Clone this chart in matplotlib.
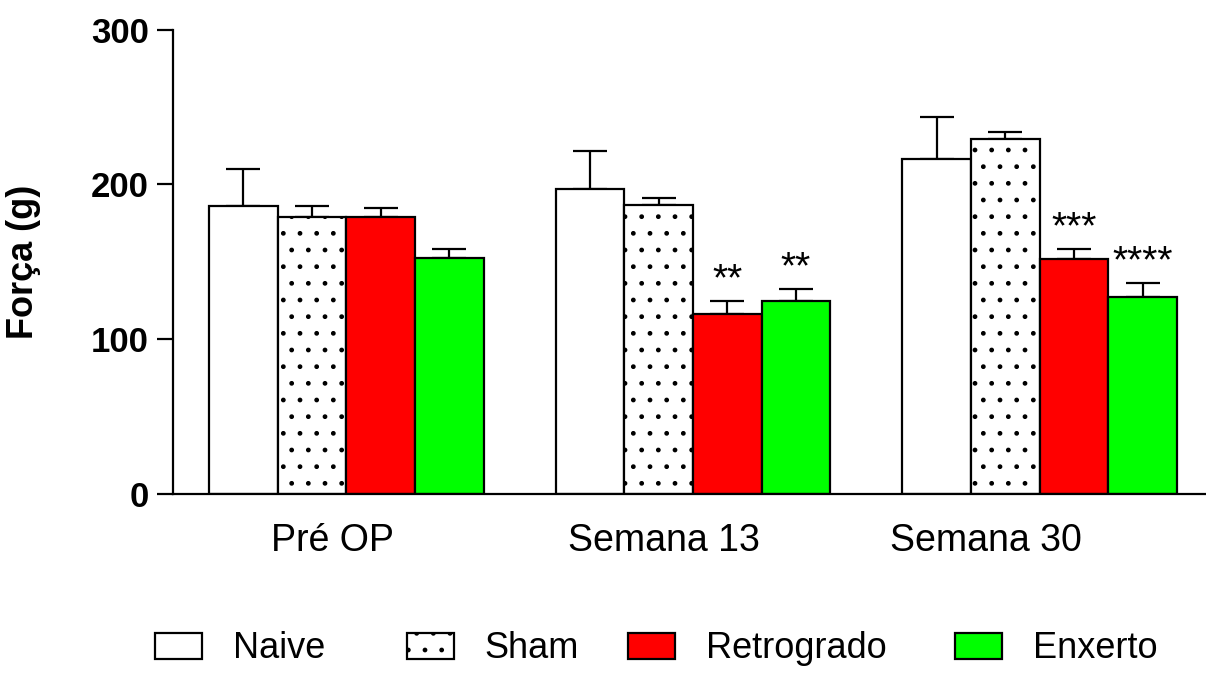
#!/usr/bin/env python3

import matplotlib
matplotlib.use('Agg')
import matplotlib.pyplot as plt
import matplotlib.patches as mpatches
import numpy as np


# data (force in g, mean and upper error)
groups = ['Pré OP', 'Semana 13', 'Semana 30']
series = ['Naive', 'Sham', 'Retrogrado', 'Enxerto']

naive = [186, 197, 216.5]
naive_err = [24, 24.5, 27]
sham = [179, 187, 229.5]
sham_err = [7, 4.5, 4.5]
retro = [179, 116, 152]
retro_err = [6, 8.5, 6]
enxerto = [152.5, 125, 127.5]
enxerto_err = [6, 7.5, 9]

# significance stars: (group index, series index, text)
stars = [(1, 2, '**'), (1, 3, '**'), (2, 2, '***'), (2, 3, '****')]


plt.rcParams['font.family'] = ['Liberation Sans', 'DejaVu Sans']
plt.rcParams['hatch.color'] = 'black'
plt.rcParams['hatch.linewidth'] = 1.0

fig = plt.figure(figsize=(12.06, 6.73), dpi=100)
ax = fig.add_axes([173/1206, 1 - 494/673, 1 - 173/1206, (494 - 29.7)/673])

means = [naive, sham, retro, enxerto]
errs = [naive_err, sham_err, retro_err, enxerto_err]
colors = ['white', 'white', '#ff0000', '#00ff00']
hatches = [None, '.', None, None]

x = np.arange(len(groups))
w = 0.198
handles = []
for i in range(len(series)):
    pos = x + (i - 1.5) * w
    ax.bar(pos, means[i], width=w, color=colors[i], edgecolor='black', linewidth=1.6,
           hatch=hatches[i], zorder=2)
    ax.errorbar(pos, means[i], yerr=[np.zeros(len(groups)), errs[i]], fmt='none',
                ecolor='black', elinewidth=1.6, capsize=12, capthick=1.6, zorder=1)
    handles.append(mpatches.Patch(facecolor=colors[i], edgecolor='black', linewidth=1.6,
                                  hatch=hatches[i], label=series[i]))

for g, s, txt in stars:
    ax.text(x[g] + (s - 1.5) * w, means[s][g] + errs[s][g] + 7, txt,
            ha='center', va='baseline', fontsize=28)

# axes styling
ax.set_xlim(-0.5, 2.48)
ax.set_ylim(0, 300)
ax.set_yticks([0, 100, 200, 300])
ax.spines['top'].set_visible(False)
ax.spines['right'].set_visible(False)
ax.spines['left'].set_linewidth(1.6)
ax.spines['bottom'].set_linewidth(1.6)
ax.tick_params(axis='y', length=11.5, width=1.6, pad=6, labelsize=25)
for lab in ax.get_yticklabels():
    lab.set_fontweight('bold')
label_shift = [-0.04, -0.085, -0.155]                      # labels sit left of the group centre
ax.set_xticks(x + np.array(label_shift))
ax.set_xticklabels(groups, fontsize=27)
ax.tick_params(axis='x', length=0, pad=21)
ax.set_ylabel('Força (g)', fontsize=26, fontweight='bold')
ax.yaxis.set_label_coords(-0.128, 0.5)

# legend, one entry at a time to match the uneven spacing
legend_x = [155, 407, 628, 955]
for h, lx in zip(handles, legend_x):
    leg = fig.legend(handles=[h], loc='center left', bbox_to_anchor=(lx/1206, 1 - 649/673),
                     frameon=False, fontsize=26, handlelength=1.3, handleheight=0.75,
                     handletextpad=0.85, borderpad=0, borderaxespad=0)

fig.savefig('out.png', dpi=100)
